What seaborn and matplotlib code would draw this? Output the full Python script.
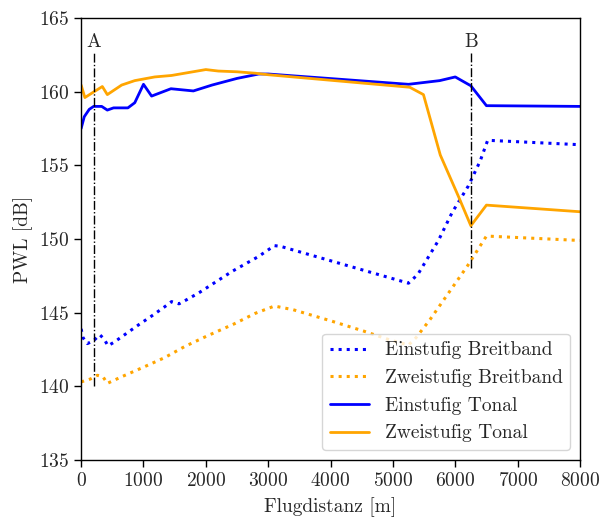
import numpy as np
import pandas as pd
import matplotlib
matplotlib.use("Agg")
import matplotlib.pyplot as plt
import seaborn as sns

# --- data ---
ein_breit_x = [0, 30, 100, 200, 300, 370, 430, 530, 730, 930, 1140, 1340, 1450, 1570,
               1680, 1890, 2420, 2840, 3100, 3200, 5250, 5400, 5730, 5950, 6210, 6400,
               6520, 8000]
ein_breit_y = [143.9, 143.3, 142.9, 143.1, 143.5, 143.2, 142.75, 143.0, 143.6, 144.2, 144.8,
               145.4, 145.75, 145.6, 145.85, 146.35, 147.8, 148.8, 149.55, 149.5, 147.0,
               147.6, 149.9, 151.8, 153.6, 155.3, 156.7, 156.4]

zwei_breit_x = [0, 150, 260, 350, 420, 650, 1000, 1340, 1660, 2010, 2460, 2790, 3100,
                3400, 4000, 4530, 4950, 5250, 5370, 5590, 6200, 6500, 8000]
zwei_breit_y = [140.3, 140.5, 140.75, 140.65, 140.2, 140.65, 141.3, 141.95, 142.7, 143.4,
                144.25, 144.95, 145.45, 145.2, 144.45, 143.75, 143.15, 142.8, 143.3,
                144.5, 148.2, 150.2, 149.9]

ein_tonal_x = [0, 50, 130, 200, 330, 420, 520, 750, 860, 1000, 1130, 1440, 1800, 2100,
               2500, 2850, 3000, 5250, 5750, 6000, 6250, 6500, 8000]
ein_tonal_y = [157.5, 158.3, 158.8, 159.0, 159.0, 158.75, 158.9, 158.9, 159.25, 160.5,
               159.7, 160.2, 160.05, 160.45, 160.9, 161.2, 161.2, 160.5, 160.75, 161.0,
               160.4, 159.05, 159.0]

zwei_tonal_x = [0, 60, 190, 340, 420, 650, 860, 1180, 1450, 2000, 2200, 2500, 2800, 3000,
                5270, 5490, 5760, 6050, 6250, 6500, 8000]
zwei_tonal_y = [160.45, 159.6, 159.95, 160.35, 159.8, 160.45, 160.75, 161.0, 161.1, 161.5,
                161.4, 161.35, 161.25, 161.15, 160.3, 159.8, 155.7, 152.9, 150.9, 152.3,
                151.85]

marker_x = [200, 6250]
marker_labels = ["A", "B"]
marker_ymin = [140.0, 148.0]

# --- style ---
sns.set_style("ticks")
plt.rcParams["font.family"] = ["cmr10", "DejaVu Serif"]
plt.rcParams["mathtext.fontset"] = "cm"
plt.rcParams["axes.formatter.use_mathtext"] = True
plt.rcParams["axes.unicode_minus"] = False

fig = plt.figure(figsize=(6.01, 5.19), dpi=100)
ax = fig.add_axes([0.135, 0.1137, 0.830, 0.8516])

series = [
    ("Einstufig Breitband", ein_breit_x, ein_breit_y, "blue", ":", 2.2),
    ("Zweistufig Breitband", zwei_breit_x, zwei_breit_y, "orange", ":", 2.2),
    ("Einstufig Tonal", ein_tonal_x, ein_tonal_y, "blue", "-", 2.0),
    ("Zweistufig Tonal", zwei_tonal_x, zwei_tonal_y, "orange", "-", 2.0),
]
for name, xs, ys, col, ls, lw in series:
    sns.lineplot(x=xs, y=ys, ax=ax, color=col, linestyle=ls, linewidth=lw, label=name,
                 sort=False)

# vertical markers A and B
for xm, lab, ymin in zip(marker_x, marker_labels, marker_ymin):
    ax.plot([xm, xm], [ymin, 162.7], color="black", linestyle="-.", linewidth=1.0)
    ax.text(xm, 163.35, lab, ha="center", va="center", fontsize=14)

ax.set_xlim(0, 8000)
ax.set_ylim(135, 165)
ax.set_xticks(np.arange(0, 8001, 1000))
ax.set_yticks(np.arange(135, 166, 5))
ax.tick_params(labelsize=14, width=1.0, length=5, color="black")
for sp in ax.spines.values():
    sp.set_color("black")
    sp.set_linewidth(1.0)

ax.set_xlabel("Flugdistanz [m]", fontsize=14, labelpad=5)
ax.set_ylabel("PWL [dB]", fontsize=14)

ax.legend(loc="lower right", fontsize=14, frameon=True, fancybox=True,
          framealpha=0.8, edgecolor="0.8", handlelength=2.0)

fig.savefig("out.png", dpi=100)
